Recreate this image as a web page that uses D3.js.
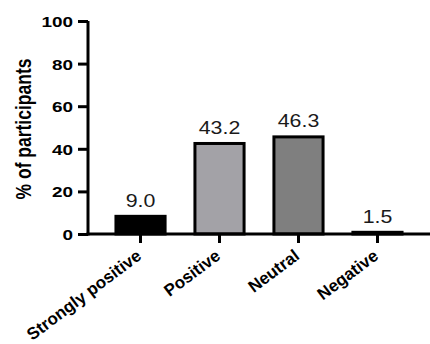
<!DOCTYPE html>
<html><head><meta charset="utf-8">
<script src="https://cdn.jsdelivr.net/npm/d3@7"></script>
<style>body{margin:0;background:#fff}svg{display:block}</style>
</head><body><svg id="c" width="430" height="344"></svg>
<script>
const categories = ["Strongly positive", "Positive", "Neutral", "Negative"];
const values = [9.0, 43.2, 46.3, 1.5];
const fills = ["#000000", "#a3a2a7", "#7f7f7f", "#000000"];
const yTicks = [0, 20, 40, 60, 80, 100];
const yLabel = "% of participants";

const SX = 1.22;
const FONT = "Liberation Sans, Arial, sans-serif";
const svg = d3.select("#c");
const x = d3.scaleBand().domain(categories).range([88, 430]).paddingInner(0.34).paddingOuter(0.335);
const y = d3.scaleLinear().domain([0, 100]).range([234, 21]);

svg.selectAll("rect.bar").data(values).join("rect")
  .attr("class", "bar")
  .attr("x", (d, i) => x(categories[i]) + 1.5)
  .attr("width", x.bandwidth() - 3)
  .attr("y", d => y(d) + 1.5)
  .attr("height", d => Math.max(0, y(0) - y(d) - 1.5))
  .attr("fill", (d, i) => fills[i])
  .attr("stroke", "#000").attr("stroke-width", 3);

svg.selectAll("text.val").data(values).join("text")
  .attr("class", "val")
  .attr("transform", (d, i) => `translate(${x(categories[i]) + x.bandwidth() / 2},${y(d) - 8}) scale(${SX},1)`)
  .attr("text-anchor", "middle")
  .attr("font-family", FONT)
  .attr("font-size", 17.5).attr("fill", "#1a1a1a")
  .text(d => d.toFixed(1));

const yAxis = svg.append("g").attr("transform", "translate(88,0)")
  .call(d3.axisLeft(y).tickValues(yTicks).tickSize(10).tickSizeOuter(0).tickPadding(3));
yAxis.select(".domain").attr("stroke-width", 3).attr("d", "M0," + (y(0)+1.5) + "V" + y(100));
yAxis.selectAll(".tick line").attr("stroke-width", 3);
yAxis.selectAll("text").attr("font-family", FONT)
  .attr("font-size", 15.5).attr("font-weight", "bold").attr("fill", "#000")
  .attr("x", null).attr("dy", null)
  .attr("transform", `translate(-15,5.5) scale(${SX},1)`);

const xAxis = svg.append("g").attr("transform", "translate(0,234)")
  .call(d3.axisBottom(x).tickSize(9).tickSizeOuter(0).tickPadding(3));
xAxis.select(".domain").attr("stroke-width", 3).attr("d", "M86.5,0H430");
xAxis.selectAll(".tick line").attr("stroke-width", 3);
xAxis.selectAll("text").attr("font-family", FONT)
  .attr("font-size", 17).attr("font-weight", "bold").attr("fill", "#000")
  .attr("text-anchor", "end").attr("dy", null).attr("y", 0)
  .attr("transform", "translate(2,24) rotate(-37)");

svg.append("text")
  .attr("transform", `translate(31,129) scale(${SX},1) rotate(-90)`)
  .attr("text-anchor", "middle")
  .attr("font-family", FONT)
  .attr("font-size", 17.5).attr("font-weight", "bold")
  .text(yLabel);
</script></body></html>
